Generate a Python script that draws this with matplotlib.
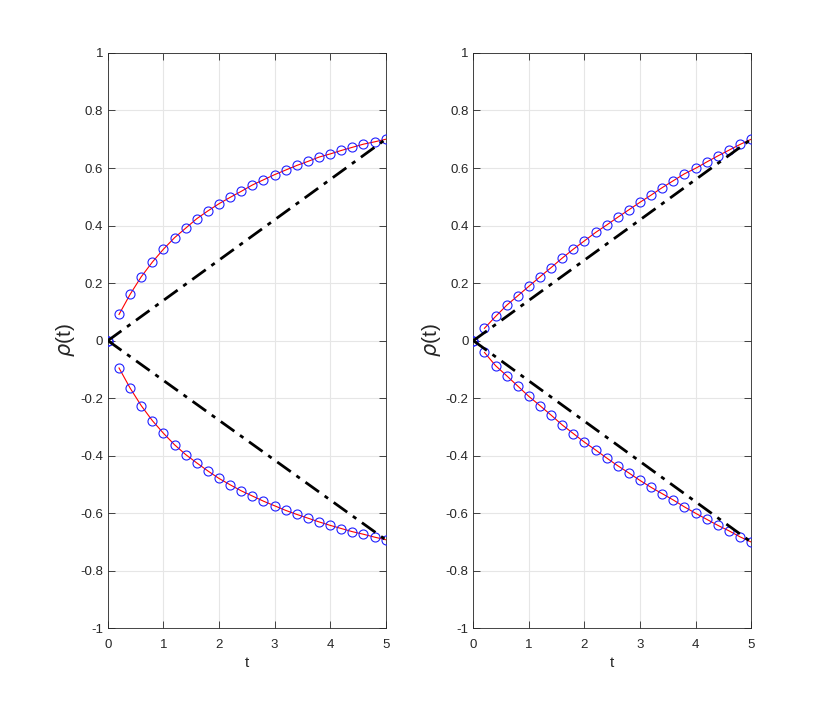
import numpy as np
import matplotlib.pyplot as plt

plt.rcParams['font.family'] = ['Liberation Sans', 'DejaVu Sans']

# time samples
t = [0.0, 0.2, 0.4, 0.6, 0.8, 1.0, 1.2, 1.4, 1.6, 1.8, 2.0, 2.2, 2.4,
     2.6, 2.8, 3.0, 3.2, 3.4, 3.6, 3.8, 4.0, 4.2, 4.4, 4.6, 4.8, 5.0]

# left panel
left_up = [0.0, 0.091, 0.161, 0.222, 0.273, 0.318, 0.358, 0.391, 0.424, 0.451,
           0.476, 0.498, 0.519, 0.541, 0.559, 0.577, 0.593, 0.609, 0.623, 0.638,
           0.649, 0.661, 0.672, 0.683, 0.691, 0.700]
left_down = [0.0, -0.095, -0.165, -0.226, -0.278, -0.322, -0.362, -0.396, -0.425, -0.453,
             -0.479, -0.501, -0.522, -0.540, -0.558, -0.574, -0.590, -0.604, -0.617, -0.630,
             -0.642, -0.653, -0.664, -0.673, -0.683, -0.692]
left_ref_up = [0.0, 0.70]
left_ref_down = [0.0, -0.692]

# right panel
right_up = [0.0, 0.043, 0.084, 0.123, 0.156, 0.189, 0.222, 0.254, 0.287, 0.318,
            0.347, 0.376, 0.402, 0.429, 0.455, 0.481, 0.506, 0.532, 0.556, 0.580,
            0.599, 0.621, 0.642, 0.662, 0.682, 0.700]
right_down = [0.0, -0.041, -0.087, -0.122, -0.158, -0.194, -0.226, -0.259, -0.293, -0.323,
              -0.353, -0.380, -0.408, -0.435, -0.460, -0.486, -0.510, -0.532, -0.554, -0.578,
              -0.600, -0.621, -0.642, -0.661, -0.682, -0.700]
right_ref_up = [0.0, 0.70]
right_ref_down = [0.0, -0.70]

t_ends = [0.0, 5.0]

axcol = '#262626'
fig = plt.figure(figsize=(8.3, 7.06), dpi=100)
positions = [[0.13, 0.11, 0.3347, 0.815], [0.5703, 0.11, 0.3347, 0.815]]
panels = [(left_up, left_down, left_ref_up, left_ref_down),
          (right_up, right_down, right_ref_up, right_ref_down)]

for pos, (up, down, rup, rdown) in zip(positions, panels):
    ax = fig.add_axes(pos)
    for y in (up, down):
        ax.plot(t[1:], y[1:], color='red', linewidth=0.8, zorder=3)
        ax.plot(t, y, linestyle='none', marker='o', markersize=6.5,
                markerfacecolor='none', markeredgecolor='#2020ff',
                markeredgewidth=0.8, zorder=4)
    ax.plot(t_ends, rup, color='black', linestyle=(0, (6, 2.5, 1.5, 2.5)),
            linewidth=2, zorder=5)
    ax.plot(t_ends, rdown, color='black', linestyle=(0, (6, 2.5, 1.5, 2.5)),
            linewidth=2, zorder=5)

    ax.set_xlim(0, 5)
    ax.set_ylim(-1, 1)
    ax.set_xticks(range(0, 6))
    ax.set_yticks(np.arange(-1, 1.01, 0.2))
    ax.set_yticklabels(['-1', '-0.8', '-0.6', '-0.4', '-0.2', '0',
                        '0.2', '0.4', '0.6', '0.8', '1'])
    ax.grid(True, color='#e6e6e6', linewidth=0.8)
    ax.set_axisbelow(True)
    ax.tick_params(direction='in', top=True, right=True, colors=axcol,
                   labelsize=9.5, length=5, width=0.6)
    ax.tick_params(axis='x', pad=8)
    for s in ax.spines.values():
        s.set_color(axcol)
        s.set_linewidth(0.6)
    ax.set_xlabel('t', fontsize=11, color=axcol, labelpad=3)
    ax.set_ylabel(r'$\rho$(t)', fontsize=15, color=axcol, labelpad=2)

plt.savefig('out.png', dpi=100)
